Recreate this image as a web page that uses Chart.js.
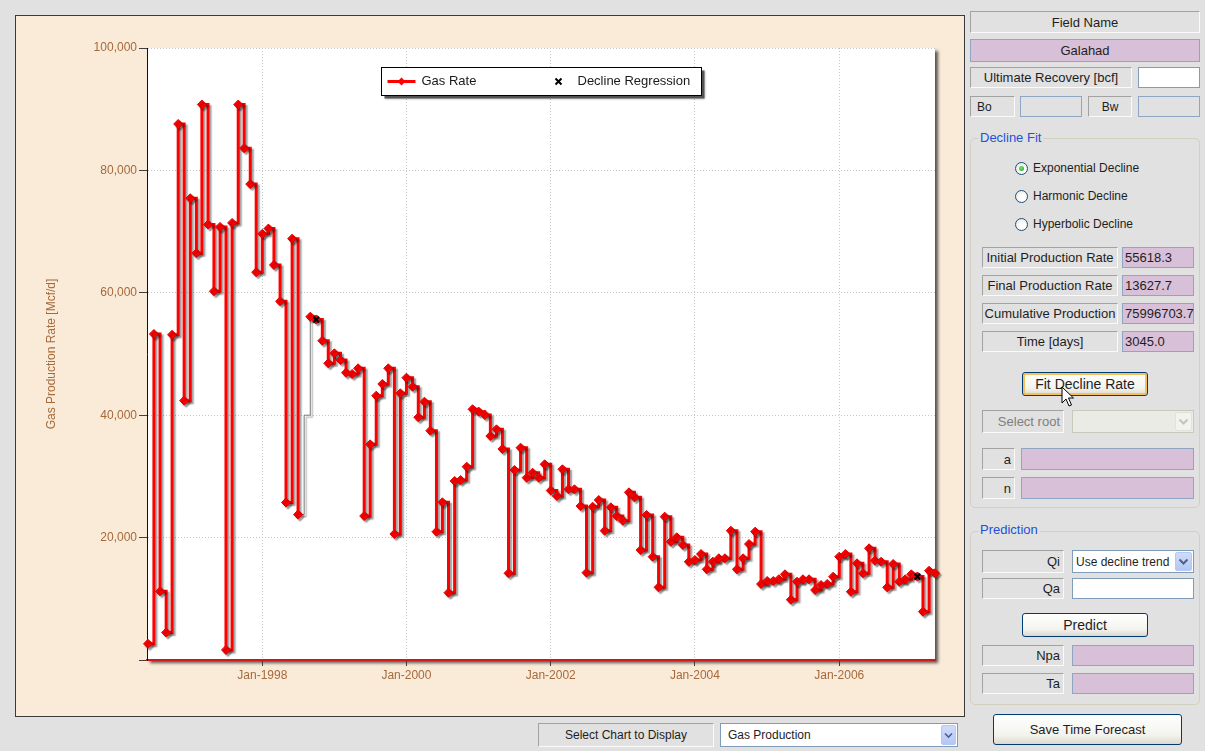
<!DOCTYPE html>
<html>
<head>
<meta charset="utf-8">
<title>Gas Production – Galahad</title>
<script src="https://cdn.jsdelivr.net/npm/chart.js@4.4.1/dist/chart.umd.min.js"></script>
<style>
  html, body { margin: 0; padding: 0; }
  body { width: 1205px; height: 751px; position: relative; overflow: hidden; background: #e1e1e1;
         font-family: "Liberation Sans", Arial, sans-serif; }
  .b { position: absolute; box-sizing: border-box; display: flex; align-items: center; white-space: nowrap;
       font-size: 13px; color: #1e1e1e; }
  .lbl { border: 1px solid; border-color: #a2a2a2 #fafafa #fafafa #a2a2a2; background: #e1e1e1; justify-content: center; }
  .rt { justify-content: flex-end; padding-right: 3px; }
  .pk { background: #d9c0d9; border: 1px solid #8ea6c4; padding-left: 2px; }
  .wh { background: #fff; border: 1px solid #7f9db9; }
  .gy { background: #e1e1e1; border: 1px solid #8ea6c4; }
  .grp { position: absolute; box-sizing: border-box; border: 1px solid #d3d0bd; border-radius: 5px; }
  .gt { position: absolute; font-size: 13px; color: #2151d9; background: #e1e1e1; padding: 0 2px; line-height: 16px; }
  .radio { position: absolute; width: 13px; height: 13px; box-sizing: border-box; border-radius: 50%;
           border: 1px solid #1c5180; background: radial-gradient(circle at 60% 60%, #ffffff 30%, #dcdcd6 100%); }
  .radio.on::after { content: ""; position: absolute; left: 3px; top: 3px; width: 5px; height: 5px; border-radius: 50%;
           background: radial-gradient(circle at 40% 40%, #7be07b, #1f9d1f); }
  .rl { position: absolute; font-size: 12px; color: #1e1e1e; line-height: 14px; }
  .btn { justify-content: center; border: 1px solid #003c74; border-radius: 3px;
         background: linear-gradient(#ffffff, #f3f3ee 70%, #dcd8cc); font-size: 14px; }
  .btn.hot { box-shadow: inset 0 0 0 2px #f7c158; }
  .arrow { position: absolute; top: 1px; right: 1px; bottom: 1px; width: 17px; box-sizing: border-box;
           border: 1px solid #b5c8f3; border-radius: 2px; background: linear-gradient(#cfdcfa, #b4c6f5);
           display: flex; align-items: center; justify-content: center; z-index: 1; }
  .arrow.off { border-color: #e2e2dc; background: #f2f2ee; }
</style>
</head>
<body>

<!-- chart panel -->
<div style="position:absolute;left:15px;top:15px;width:950px;height:702px;box-sizing:border-box;border:1px solid #3a3a3a;background:#faebd9"></div>
<canvas id="gasChart" width="948" height="700" style="position:absolute;left:16px;top:16px"></canvas>

<!-- field information -->
<div class="b lbl" style="left:970px;top:11px;width:230px;height:22px">Field Name</div>
<div class="b pk" style="left:970px;top:39px;width:230px;height:23px;justify-content:center;padding:0">Galahad</div>
<div class="b lbl" style="left:970px;top:67px;width:162px;height:21px">Ultimate Recovery [bcf]</div>
<div class="b wh" style="left:1138px;top:67px;width:62px;height:21px"></div>
<div class="b lbl" style="left:970px;top:96px;width:45px;height:21px;justify-content:flex-start;padding-left:6px;font-size:12px">Bo</div>
<div class="b gy" style="left:1020px;top:96px;width:62px;height:21px"></div>
<div class="b lbl" style="left:1088px;top:96px;width:44px;height:21px;font-size:12px">Bw</div>
<div class="b gy" style="left:1138px;top:96px;width:62px;height:21px"></div>

<!-- decline fit group -->
<div class="grp" style="left:970px;top:138px;width:230px;height:370px"></div>
<div class="gt" style="left:978px;top:130px">Decline Fit</div>
<div class="radio on" style="left:1015px;top:162px"></div>
<div class="rl" style="left:1033px;top:161px">Exponential Decline</div>
<div class="radio" style="left:1015px;top:190px"></div>
<div class="rl" style="left:1033px;top:189px">Harmonic Decline</div>
<div class="radio" style="left:1015px;top:218px"></div>
<div class="rl" style="left:1033px;top:217px">Hyperbolic Decline</div>

<div class="b lbl" style="left:982px;top:247px;width:136px;height:21px">Initial Production Rate</div>
<div class="b pk" style="left:1122px;top:247px;width:72px;height:21px">55618.3</div>
<div class="b lbl" style="left:982px;top:275px;width:136px;height:21px">Final Production Rate</div>
<div class="b pk" style="left:1122px;top:275px;width:72px;height:21px">13627.7</div>
<div class="b lbl" style="left:982px;top:303px;width:136px;height:21px">Cumulative Production</div>
<div class="b pk" style="left:1122px;top:303px;width:72px;height:21px">75996703.7</div>
<div class="b lbl" style="left:982px;top:331px;width:136px;height:21px">Time [days]</div>
<div class="b pk" style="left:1122px;top:331px;width:72px;height:21px">3045.0</div>

<div class="b btn hot" style="left:1022px;top:372px;width:126px;height:24px">Fit Decline Rate</div>

<div class="b lbl rt" style="left:982px;top:410px;width:82px;height:23px;color:#7e7e7e">Select root</div>
<div class="b" style="left:1072px;top:410px;width:122px;height:23px;background:#ebebe6;border:1px solid #cac8bb">
  <div class="arrow off"><svg width="11" height="8"><path d="M1.5 1.5 L5.5 5.5 L9.5 1.5" fill="none" stroke="#c4c4bd" stroke-width="2"/></svg></div>
</div>
<div class="b lbl rt" style="left:982px;top:448px;width:33px;height:22px">a</div>
<div class="b pk" style="left:1021px;top:448px;width:173px;height:22px"></div>
<div class="b lbl rt" style="left:982px;top:477px;width:33px;height:22px">n</div>
<div class="b pk" style="left:1021px;top:477px;width:173px;height:22px"></div>

<!-- prediction group -->
<div class="grp" style="left:970px;top:531px;width:230px;height:174px"></div>
<div class="gt" style="left:978px;top:522px">Prediction</div>
<div class="b lbl rt" style="left:982px;top:550px;width:82px;height:23px">Qi</div>
<div class="b wh" style="left:1072px;top:550px;width:122px;height:23px;padding-left:3px;font-size:12px;overflow:hidden">Use decline trend
  <div class="arrow"><svg width="11" height="8"><path d="M1.5 1.5 L5.5 5.5 L9.5 1.5" fill="none" stroke="#4d6185" stroke-width="2"/></svg></div>
</div>
<div class="b lbl rt" style="left:982px;top:578px;width:82px;height:21px">Qa</div>
<div class="b wh" style="left:1072px;top:578px;width:122px;height:21px"></div>
<div class="b btn" style="left:1022px;top:613px;width:126px;height:24px">Predict</div>
<div class="b lbl rt" style="left:982px;top:645px;width:82px;height:21px">Npa</div>
<div class="b pk" style="left:1072px;top:645px;width:122px;height:21px"></div>
<div class="b lbl rt" style="left:982px;top:673px;width:82px;height:21px">Ta</div>
<div class="b pk" style="left:1072px;top:673px;width:122px;height:21px"></div>

<div class="b btn" style="left:993px;top:714px;width:189px;height:31px;font-size:13px">Save Time Forecast</div>

<!-- chart selector -->
<div class="b lbl" style="left:538px;top:723px;width:176px;height:24px;font-size:12px">Select Chart to Display</div>
<div class="b wh" style="left:720px;top:723px;width:238px;height:24px;padding-left:7px;font-size:12px">Gas Production
  <div class="arrow" style="width:15px"><svg width="9" height="7"><path d="M1 1.5 L4.5 5 L8 1.5" fill="none" stroke="#4d6185" stroke-width="1.6"/></svg></div>
</div>

<!-- mouse pointer over the fit button -->
<svg style="position:absolute;left:1061px;top:386px" width="14" height="22">
  <path d="M1 1 L1 17 L5 13 L8 20 L10.5 19 L7.5 12 L12.5 12 Z" fill="#fff" stroke="#000" stroke-width="1"/>
</svg>

<script>
// Monthly gas production rate [Mcf/d]; each year's list starts at the month given in rateYears
const rate1996 = [2640, 53270, 11220, 4490, 53140, 87590, 42380];
const rate1997 = [75450, 66470, 90760, 71160, 60260, 70760, 1650, 71420, 90760, 83630, 77760, 63370];
const rate1998 = [69640, 70500, 64550, 58610, 25740, 68840, 23760, 40000, 56100, 55620, 52170, 48480];
const rate1999 = [50110, 49020, 46950, 46730, 47660, 23530, 35240, 43190, 45100, 47660, 20590, 43580];
const rate2000 = [46130, 44660, 39660, 42210, 37470, 20970, 25770, 11000, 29250, 29410, 31590, 40970];
const rate2001 = [40580, 40030, 36600, 37690, 34480, 14170, 31050, 34690, 29790, 30600, 29790, 31980];
const rate2002 = [27700, 26800, 31160, 27890, 27890, 25160, 14270, 25050, 26140, 21130, 24950, 23530];
const rate2003 = [22760, 27400, 26580, 17970, 23690, 16880, 11880, 23420, 19330, 20050, 18790, 16060];
const rate2004 = [16340, 17320, 14820, 16060, 16620, 16620, 21130, 14820, 16620, 18950, 20970, 12420];
const rate2005 = [12910, 12910, 13190, 14000, 9860, 12800, 13190, 13190, 11440, 12250, 12420, 13610];
const rate2006 = [16880, 17320, 11160, 15800, 14170, 18250, 16230, 16060, 11880, 15690, 12800, 13190];
const rate2007 = [14000, 13630, 7900, 14590, 14170];

// [year, first month, rates]
const rateYears = [
  [1996, 6, rate1996], [1997, 1, rate1997], [1998, 1, rate1998], [1999, 1, rate1999],
  [2000, 1, rate2000], [2001, 1, rate2001], [2002, 1, rate2002], [2003, 1, rate2003],
  [2004, 1, rate2004], [2005, 1, rate2005], [2006, 1, rate2006], [2007, 1, rate2007]
];

// month without a reported rate, bridged by a thin connector
const infillMonths = ['1998-08'];

// exponential decline regression end points
const regressionMonths = ['1998-10', '2007-02'];
const regressionRates = [55618.3, 13627.7];

// axes
const xTickYears = [1998, 2000, 2002, 2004, 2006];
const axisStart = '1996-05-27';
const axisEnd = '2007-05-01';
const yMax = 100000;
const yStep = 20000;

const monthMs = (y, m) => Date.UTC(y, m - 1, 1);
const keyMs = k => { const [y, m] = k.split('-').map(Number); return monthMs(y, m); };

const gasPoints = [];
const infillIdx = new Set();
const infillMs = new Set(infillMonths.map(keyMs));
rateYears.forEach(([year, first, rates]) => {
  rates.forEach((v, i) => {
    const x = monthMs(year, first + i);
    if (infillMs.has(x)) infillIdx.add(gasPoints.length);
    gasPoints.push({ x, y: v });
  });
});
const regressionPoints = regressionMonths.map((k, i) => ({ x: keyMs(k), y: regressionRates[i] }));

const brown = '#a5693a';
Chart.defaults.font.family = '"Liberation Sans", Arial, sans-serif';
Chart.defaults.font.size = 12;

const isInfill = c => infillIdx.has(c.p0DataIndex) || infillIdx.has(c.p1DataIndex);

// white plot area with a soft drop shadow
const plotFrame = {
  id: 'plotFrame',
  beforeDraw(chart) {
    const { ctx, chartArea: a } = chart;
    ctx.save();
    ctx.shadowColor = 'rgba(0,0,0,0.65)';
    ctx.shadowOffsetX = 3;
    ctx.shadowOffsetY = 3;
    ctx.shadowBlur = 3;
    ctx.fillStyle = '#ffffff';
    ctx.fillRect(a.left, a.top, a.width, a.height);
    ctx.restore();
  }
};

// drop shadow under the gas rate line
const lineShadow = {
  id: 'lineShadow',
  beforeDatasetDraw(chart, args) {
    if (args.index !== 0) return;
    const ctx = chart.ctx;
    ctx.save();
    ctx.shadowColor = 'rgba(0,0,0,0.38)';
    ctx.shadowOffsetX = 2;
    ctx.shadowOffsetY = 2;
    ctx.shadowBlur = 1.5;
  },
  afterDatasetDraw(chart, args) {
    if (args.index === 0) chart.ctx.restore();
  }
};

// boxed legend inside the plot area
const boxLegend = {
  id: 'boxLegend',
  afterDatasetsDraw(chart) {
    const { ctx, chartArea: a } = chart;
    const ds = chart.data.datasets;
    const w = 320, h = 28;
    const x = Math.round((a.left + a.right) / 2 - w / 2) + 0.5;
    const y = a.top + 19.5;
    const cy = y + h / 2;
    ctx.save();
    ctx.fillStyle = 'rgba(60,60,60,0.8)';
    ctx.shadowColor = 'rgba(0,0,0,0.4)';
    ctx.shadowBlur = 2;
    ctx.fillRect(x + 3, y + 3, w, h);
    ctx.shadowColor = 'transparent';
    ctx.fillStyle = '#ffffff';
    ctx.fillRect(x, y, w, h);
    ctx.strokeStyle = '#000000';
    ctx.lineWidth = 1;
    ctx.strokeRect(x, y, w, h);

    // gas rate symbol: line with diamond
    ctx.strokeStyle = ds[0].borderColor;
    ctx.lineWidth = 3;
    ctx.beginPath();
    ctx.moveTo(x + 6, cy);
    ctx.lineTo(x + 34, cy);
    ctx.stroke();
    ctx.fillStyle = ds[0].pointBackgroundColor;
    ctx.beginPath();
    ctx.moveTo(x + 20, cy - 4); ctx.lineTo(x + 24, cy); ctx.lineTo(x + 20, cy + 4); ctx.lineTo(x + 16, cy);
    ctx.closePath();
    ctx.fill();

    // regression symbol: cross
    const mx = x + 177;
    ctx.strokeStyle = '#000000';
    ctx.lineWidth = 2;
    ctx.beginPath();
    ctx.moveTo(mx - 3, cy - 3); ctx.lineTo(mx + 3, cy + 3);
    ctx.moveTo(mx + 3, cy - 3); ctx.lineTo(mx - 3, cy + 3);
    ctx.stroke();

    ctx.fillStyle = '#1a1a1a';
    ctx.font = '13px "Liberation Sans", Arial, sans-serif';
    ctx.textBaseline = 'middle';
    ctx.fillText(ds[0].label, x + 40, cy);
    ctx.fillText(ds[1].label, x + 196, cy);
    ctx.restore();
  }
};

new Chart(document.getElementById('gasChart'), {
  type: 'line',
  data: {
    datasets: [
      {
        label: 'Gas Rate',
        data: gasPoints,
        order: 2,
        stepped: true,
        borderColor: '#ff0000',
        borderWidth: 3,
        pointStyle: 'rectRot',
        pointRadius: c => infillIdx.has(c.dataIndex) ? 0 : 4.5,
        pointBackgroundColor: '#ff0000',
        pointBorderColor: '#e00000',
        pointBorderWidth: 1,
        fill: false,
        clip: false,
        segment: {
          borderColor: c => isInfill(c) ? '#7a7a7a' : undefined,
          borderWidth: c => isInfill(c) ? 1 : undefined
        }
      },
      {
        label: 'Decline Regression',
        data: regressionPoints,
        order: 1,
        showLine: false,
        pointStyle: 'crossRot',
        pointRadius: 4,
        pointBorderColor: '#000000',
        pointBorderWidth: 2,
        clip: false
      }
    ]
  },
  options: {
    responsive: false,
    animation: false,
    devicePixelRatio: 1,
    layout: { padding: { top: 32, right: 29, left: 0, bottom: 0 } },
    plugins: {
      legend: { display: false },
      tooltip: { enabled: false }
    },
    events: [],
    scales: {
      x: {
        type: 'linear',
        min: Date.parse(axisStart),
        max: Date.parse(axisEnd),
        afterBuildTicks: s => { s.ticks = xTickYears.map(y => ({ value: monthMs(y, 1) })); },
        afterFit: s => { s.height = 56; },
        ticks: {
          autoSkip: false,
          maxRotation: 0,
          color: brown,
          padding: 2,
          callback: v => 'Jan-' + new Date(v).getUTCFullYear()
        },
        grid: { color: '#c4c4c4', tickColor: '#404040', tickLength: 6 },
        border: { color: '#d01818', width: 2, dash: [1, 2] }
      },
      y: {
        min: 0,
        max: yMax,
        afterFit: s => { s.width = 131; },
        ticks: {
          stepSize: yStep,
          color: brown,
          padding: 2,
          callback: v => v === 0 ? '' : v.toLocaleString('en-US')
        },
        grid: { color: '#c4c4c4', tickColor: '#404040', tickLength: 8 },
        border: { color: '#111111', width: 1, dash: [1, 2] },
        title: {
          display: true,
          text: 'Gas Production Rate [Mcf/d]',
          color: brown,
          font: { size: 12 },
          padding: { top: 28, bottom: 0 }
        }
      }
    }
  },
  plugins: [plotFrame, lineShadow, boxLegend]
});
</script>
</body>
</html>
